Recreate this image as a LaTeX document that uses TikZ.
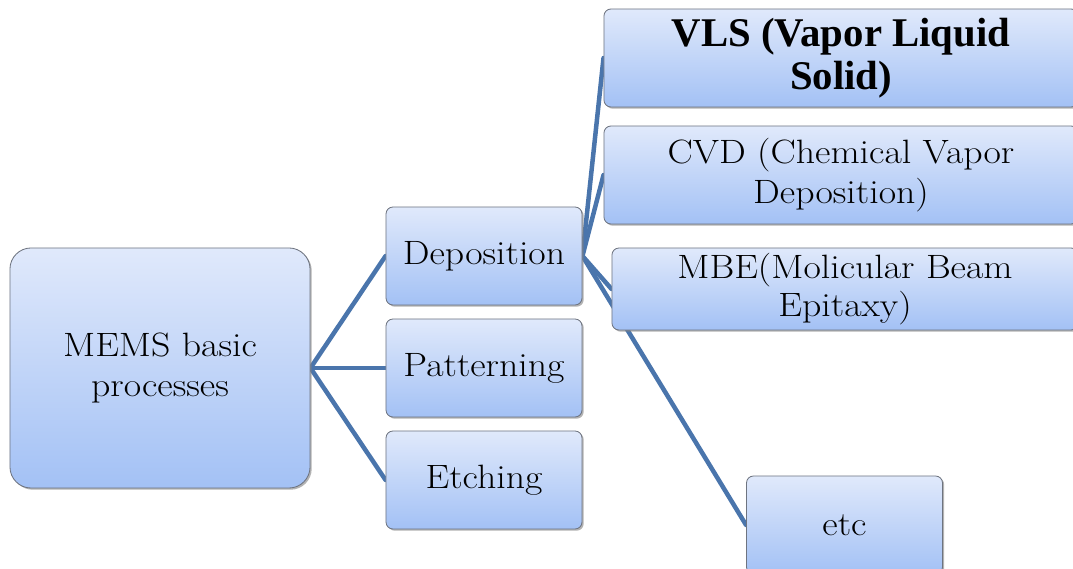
\documentclass[tikz,border=0pt]{standalone}
\usepackage{fontspec}
\setmainfont{Latin Modern Roman}[FakeStretch=1.12]
\newfontfamily\timesfont{Liberation Serif}
\usepackage{xcolor}
\usetikzlibrary{positioning,shadows,backgrounds}
\definecolor{memsTopFill}{HTML}{E0E9FB}
\definecolor{memsBotFill}{HTML}{A3C1F5}
\definecolor{memsEdge}{HTML}{6E7480}
\definecolor{memsLink}{HTML}{4A75AC}

\tikzset{
  procbox/.style={draw=memsEdge, line width=0.6pt,
    top color=memsTopFill, bottom color=memsBotFill,
    rounded corners=5pt, align=center, inner sep=3pt,
    font=\fontsize{24}{28}\selectfont,
    drop shadow={shadow xshift=1.2pt, shadow yshift=-1.2pt,
      fill=black!50, opacity=0.6}},
  smallbox/.style={procbox, minimum width=4.9cm, minimum height=2.45cm},
  widebox/.style={procbox, minimum width=11.85cm, minimum height=2.45cm},
  link/.style={draw=memsLink, line width=3.2pt, line cap=round}
}

\begin{document}
\begin{tikzpicture}[x=0.025cm, y=-0.025cm]

\useasboundingbox (0,0) rectangle (1073,569);
\clip (0,0) rectangle (1073,569);

%% root ==============================================================
\node[procbox, rounded corners=15pt, minimum width=7.5cm,
      minimum height=6cm]
  (mems) at (160, 368) {MEMS basic\\processes};

%% first level =======================================================
\node[smallbox] (depo)  at (484, 256) {Deposition};
\node[smallbox] (patt)  at (484, 368) {Patterning};
\node[smallbox] (etch)  at (484, 480) {Etching};

%% deposition methods ================================================
\node[widebox, font=\timesfont\bfseries\fontsize{29}{31}\selectfont]
  (vls) at (841, 58) {VLS (Vapor Liquid\\Solid)};
\node[widebox] (cvd) at (841, 175) {CVD (Chemical Vapor\\Deposition)};
\node[widebox, minimum width=11.65cm, minimum height=2.05cm,
      font=\fontsize{24}{27}\selectfont]
  (mbe) at (845, 289) {MBE(Molicular Beam\\Epitaxy)};
\node[smallbox] (etc) at (844.5, 525) {etc};

%% connectors behind the boxes
\begin{scope}[on background layer]
  \foreach \dst in {depo, patt, etch}
    \draw[link] (mems.east) -- (\dst.west);
  \foreach \dst in {vls, cvd, mbe, etc}
    \draw[link] (depo.east) -- (\dst.west);
\end{scope}

\end{tikzpicture}
\end{document}
